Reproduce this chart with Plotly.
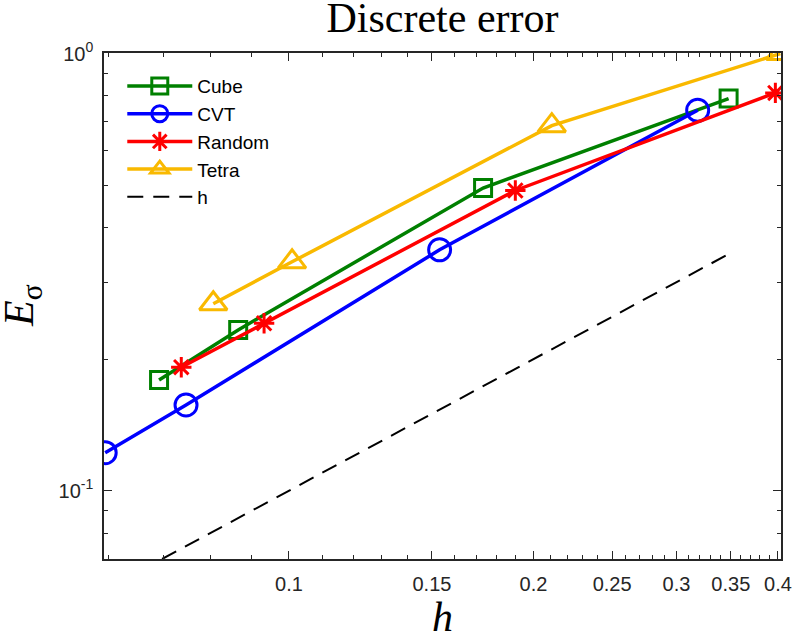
import numpy as np
import plotly.graph_objects as go

# ---- data ----
cube_h = [0.0692, 0.0866, 0.1734, 0.3478]
cube_e = [0.1792, 0.2333, 0.4926, 0.7888]
cvt_h = [0.0594, 0.0747, 0.1533, 0.3186]
cvt_e = [0.1222, 0.1571, 0.3557, 0.7416]
random_h = [0.0737, 0.0932, 0.1900, 0.3971]
random_e = [0.1917, 0.2416, 0.4862, 0.8128]
tetra_h = [0.0807, 0.1009, 0.2107, 0.4027]
tetra_e = [0.2677, 0.3339, 0.6840, 1.0000]
ref_h = [0.0698, 0.35]
ref_e = [0.0698, 0.35]

x_major = [0.1, 0.15, 0.2, 0.25, 0.3, 0.35, 0.4]
x_major_text = ["0.1", "0.15", "0.2", "0.25", "0.3", "0.35", "0.4"]
x_minor = [round(0.06 + 0.01 * i, 2) for i in range(35)]
y_major = [0.1, 1.0]
y_major_text = ["10<sup>-1</sup>", "10<sup>0</sup>"]
y_minor = [0.07, 0.08, 0.09, 0.2, 0.3, 0.4, 0.5, 0.6, 0.7, 0.8, 0.9]

x_lim = [0.0592, 0.4035]
y_lim = [0.0698, 1.003]

series = [
    ("Cube", cube_h, cube_e, "#008000", "square-open", 17),
    ("CVT", cvt_h, cvt_e, "#0000FF", "circle-open", 22),
    ("Random", random_h, random_e, "#FF0000", "asterisk-open", 17),
    ("Tetra", tetra_h, tetra_e, "#F9B900", "triangle-up-open", 24),
]

fig = go.Figure()
for name, hx, ey, col, sym, sz in series:
    fig.add_trace(go.Scatter(
        x=hx, y=ey, name=name, mode="lines+markers",
        line=dict(color=col, width=3.5),
        marker=dict(symbol=sym, size=sz, color=col, line=dict(color=col, width=3)),
    ))
fig.add_trace(go.Scatter(
    x=ref_h, y=ref_e, name="h", mode="lines",
    line=dict(color="black", width=2, dash="16px,10px"),
))

axis_col = "#262626"
tick_font = dict(family="Liberation Sans, Arial, sans-serif", size=20, color="#262626")
label_font = dict(family="Liberation Serif, Times New Roman, serif", size=42, color="black")

fig.update_layout(
    width=798, height=634,
    margin=dict(l=104, r=17, t=53, b=75, autoexpand=False),
    paper_bgcolor="white", plot_bgcolor="white",
    showlegend=True,
    legend=dict(
        x=0.027, y=0.972, xanchor="left", yanchor="top",
        xref="paper", yref="paper",
        bgcolor="rgba(255,255,255,0)", borderwidth=0,
        font=dict(family="Liberation Sans, Arial, sans-serif", size=19, color="black"),
        itemwidth=65,
    ),
    title=dict(
        text="Discrete error", x=0.5, xref="paper", xanchor="center",
        y=1.0, yref="paper", yanchor="bottom", pad=dict(b=21),
        font=dict(family="Liberation Serif, Times New Roman, serif", size=42, color="black"),
    ),
    annotations=[
        dict(text="<i>h</i>", xref="paper", yref="paper", x=0.5, y=0,
             xanchor="center", yanchor="top", yshift=-34, showarrow=False,
             borderpad=0, font=label_font),
        dict(text="<i>E</i><sub>σ</sub>", xref="paper", yref="paper", x=0, y=0.5,
             xanchor="left", yanchor="middle", xshift=-109, textangle=-90,
             showarrow=False, borderpad=0, font=label_font),
    ],
)

fig.update_xaxes(
    type="log", range=[np.log10(x_lim[0]), np.log10(x_lim[1])],
    tickvals=x_major, ticktext=x_major_text,
    ticks="inside", ticklen=8, tickwidth=1.3, tickcolor=axis_col,
    minor=dict(tickvals=x_minor, ticks="inside", ticklen=4, tickwidth=1.1, tickcolor=axis_col),
    showline=True, linecolor=axis_col, linewidth=1.5, mirror="ticks",
    showgrid=False, zeroline=False, tickfont=tick_font, ticklabelstandoff=6,
    automargin=False,
)
fig.update_yaxes(
    type="log", range=[np.log10(y_lim[0]), np.log10(y_lim[1])],
    tickvals=y_major, ticktext=y_major_text,
    ticks="inside", ticklen=8, tickwidth=1.3, tickcolor=axis_col,
    minor=dict(tickvals=y_minor, ticks="inside", ticklen=4, tickwidth=1.1, tickcolor=axis_col),
    showline=True, linecolor=axis_col, linewidth=1.5, mirror="ticks",
    showgrid=False, zeroline=False, tickfont=tick_font, ticklabelstandoff=5,
    automargin=False,
)

fig.write_html("out.html")
